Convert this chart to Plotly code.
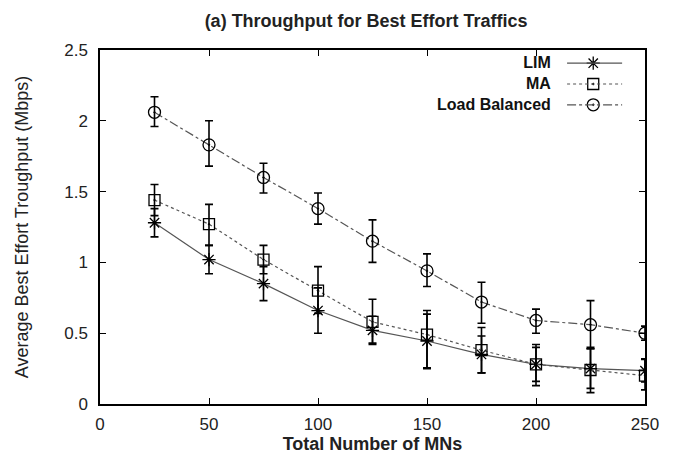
import plotly.graph_objects as go

mns = [25, 50, 75, 100, 125, 150, 175, 200, 225, 250]

lim_y = [1.28, 1.02, 0.85, 0.66, 0.52, 0.445, 0.35, 0.28, 0.25, 0.235]
lim_err = [0.10, 0.10, 0.12, 0.16, 0.10, 0.19, 0.13, 0.12, 0.14, 0.08]

ma_y = [1.44, 1.27, 1.02, 0.80, 0.58, 0.49, 0.38, 0.28, 0.24, 0.20]
ma_plus = [0.11, 0.14, 0.10, 0.17, 0.16, 0.17, 0.16, 0.14, 0.16, 0.12]
ma_minus = [0.11, 0.15, 0.10, 0.16, 0.15, 0.24, 0.16, 0.15, 0.16, 0.10]

lb_y = [2.06, 1.83, 1.60, 1.38, 1.15, 0.94, 0.72, 0.59, 0.56, 0.50]
lb_plus = [0.11, 0.17, 0.10, 0.11, 0.15, 0.12, 0.14, 0.08, 0.17, 0.05]
lb_minus = [0.10, 0.15, 0.11, 0.11, 0.15, 0.11, 0.15, 0.09, 0.17, 0.05]

series = [
    ("LIM", lim_y, lim_err, lim_err, "solid", "asterisk-open", 11),
    ("MA", ma_y, ma_plus, ma_minus, "dot", "square-open-dot", 11),
    ("Load Balanced", lb_y, lb_plus, lb_minus, "dashdot", "circle-open-dot", 12),
]

font = "Liberation Sans, Arial, sans-serif"
fig = go.Figure()
for name, y, ep, em, dash, sym, sz in series:
    fig.add_trace(go.Scatter(
        x=mns, y=y, name=name, mode="lines+markers",
        line=dict(color="#555555", width=1.2, dash=dash),
        marker=dict(symbol=sym, size=sz, color="black", line=dict(width=1.3, color="black")),
        error_y=dict(type="data", array=ep, arrayminus=em, color="black", thickness=1.6, width=4),
        showlegend=False,
    ))

# Manual gnuplot-style legend (text right-aligned, sample to the right)
leg_font = 16
row_h = leg_font * 1.3 / 354.0
mid = 0.904
leg_y = [mid + row_h, mid, mid - row_h]
fig.add_annotation(x=0.831, y=mid, xref="paper", yref="paper",
                   text="<br>".join("<b>%s</b>" % s[0] for s in series),
                   showarrow=False, xanchor="right", yanchor="middle", align="right",
                   font=dict(family=font, size=leg_font, color="#111"))
for (name, y, ep, em, dash, sym, sz), ly in zip(series, leg_y):
    fig.add_shape(type="line", xref="paper", yref="paper", x0=0.857, x1=0.958, y0=ly, y1=ly,
                  line=dict(color="#555555", width=1.2, dash=dash))
    fig.add_trace(go.Scatter(x=[0.905], y=[ly], xaxis="x2", yaxis="y2", mode="markers",
                             marker=dict(symbol=sym, size=sz, color="black", line=dict(width=1.3, color="black")),
                             showlegend=False, hoverinfo="skip"))

axis_common = dict(showgrid=False, zeroline=False, showline=True, linecolor="black", linewidth=1.5,
                   mirror="ticks", ticks="inside", ticklen=6, tickcolor="black", tickwidth=1.3,
                   tickfont=dict(family=font, size=17, color="#222"))

fig.update_layout(
    width=677, height=459,
    paper_bgcolor="white", plot_bgcolor="white",
    margin=dict(l=92, r=40, t=42, b=63),
    title=dict(text="<b>(a) Throughput for Best Effort Traffics</b>", x=0.529, xanchor="center",
               y=0.972, yanchor="middle", font=dict(family=font, size=18, color="#222")),
    xaxis=dict(range=[0, 250], tickvals=[0, 50, 100, 150, 200, 250], ticklabelstandoff=4,
               title=dict(text="<b>Total Number of MNs</b>", font=dict(family=font, size=18, color="#222"), standoff=2),
               **axis_common),
    yaxis=dict(range=[0, 2.5], tickvals=[0, 0.5, 1, 1.5, 2, 2.5], ticklabelstandoff=7,
               title=dict(text="Average Best Effort Troughput (Mbps)", font=dict(family=font, size=18, color="#222"), standoff=31),
               **axis_common),
    xaxis2=dict(range=[0, 1], overlaying="x", visible=False, anchor="y2"),
    yaxis2=dict(range=[0, 1], overlaying="y", visible=False, anchor="x2"),
    showlegend=False,
)
fig.write_html("out.html")
